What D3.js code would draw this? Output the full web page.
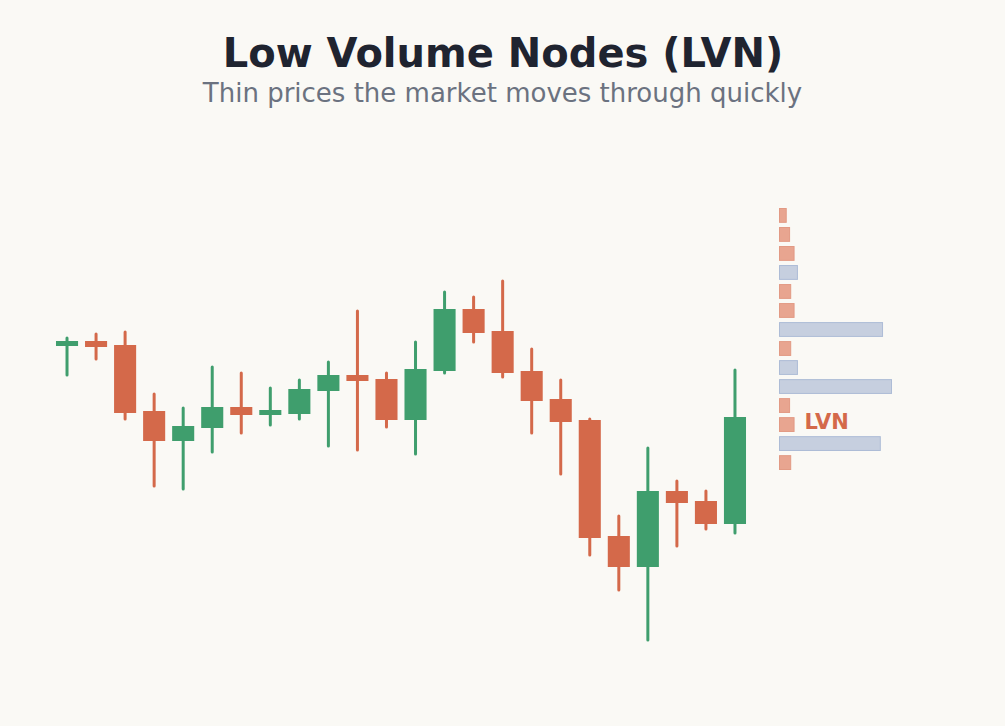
<!DOCTYPE html>
<html>
<head>
<meta charset="utf-8">
<script src="https://cdn.jsdelivr.net/npm/d3@7"></script>
<style>
  html, body { margin: 0; padding: 0; background: #faf9f5; }
  svg { display: block; font-family: "DejaVu Sans", sans-serif; }
</style>
</head>
<body>
<div id="chart"></div>
<script>
// candles, one entry per bar
const opens  = [105.4, 105.9, 105.5, 98.9, 95.9, 97.2, 99.3, 98.5, 98.6, 100.9, 102.5, 102.1, 98.0, 102.9, 109.1, 106.9, 102.9, 100.1, 98.0, 86.4, 83.3, 90.9, 89.9, 87.6];
const closes = [105.9, 105.3, 98.7, 95.9, 97.4, 99.3, 98.5, 99.0, 101.1, 102.5, 101.9, 98.0, 103.1, 109.1, 106.7, 102.7, 99.9, 97.8, 86.2, 83.3, 90.9, 89.7, 87.6, 98.3];
const highs  = [106.2, 106.6, 106.8, 100.6, 99.2, 103.3, 102.7, 101.2, 102.0, 103.8, 108.9, 102.7, 105.8, 110.8, 110.3, 111.9, 105.1, 102.0, 98.1, 88.4, 95.2, 91.9, 90.9, 103.0];
const lows   = [102.5, 104.1, 98.1, 91.4, 91.1, 94.8, 96.7, 97.5, 98.1, 95.4, 95.0, 97.3, 94.6, 102.7, 105.8, 102.3, 96.7, 92.6, 84.5, 81.0, 76.0, 85.4, 87.1, 86.7];

// volume profile, top bin first
const profileVolumes = [6, 9, 13, 16, 10, 13, 92, 10, 16, 100, 9, 13, 90, 10];
const lvnThreshold = 15;

const width = 1005, height = 726;
const green = "#3f9e6d", red = "#d4694a";

const svg = d3.select("#chart").append("svg")
  .attr("width", width).attr("height", height)
  .attr("viewBox", [0, 0, width, height]);

svg.append("rect").attr("width", width).attr("height", height).attr("fill", "#faf9f5");

svg.append("text")
  .attr("x", width / 2 + 0.5).attr("y", 67)
  .attr("text-anchor", "middle")
  .style("font-size", "40px").style("font-weight", "bold")
  .attr("fill", "#1f2430")
  .text("Low Volume Nodes (LVN)");

svg.append("text")
  .attr("x", width / 2).attr("y", 102)
  .attr("text-anchor", "middle")
  .style("font-size", "26px")
  .attr("fill", "#6b7280")
  .text("Thin prices the market moves through quickly");

const idx = d3.range(opens.length);

const x = d3.scaleBand()
  .domain(idx)
  .range([52.5, 749.5])
  .paddingInner(0.24)
  .paddingOuter(0.12);

// price -> pixel
const y = d3.scaleLinear().domain([76, 111.9]).range([640, 281]);

const candles = svg.append("g").selectAll("g")
  .data(idx)
  .join("g");

candles.append("line")
  .attr("x1", i => x(i) + x.bandwidth() / 2)
  .attr("x2", i => x(i) + x.bandwidth() / 2)
  .attr("y1", i => y(highs[i]))
  .attr("y2", i => y(lows[i]))
  .attr("stroke", i => closes[i] >= opens[i] ? green : red)
  .attr("stroke-width", 3)
  .attr("stroke-linecap", "round");

candles.append("rect")
  .attr("x", i => x(i))
  .attr("width", x.bandwidth())
  .attr("y", i => y(Math.max(opens[i], closes[i])))
  .attr("height", i => Math.max(4, Math.abs(y(opens[i]) - y(closes[i]))))
  .attr("fill", i => closes[i] >= opens[i] ? green : red);

// volume profile on the right
const py = d3.scaleBand()
  .domain(d3.range(profileVolumes.length))
  .range([208, 470])
  .paddingInner(0.22)
  .paddingOuter(0);

const px = d3.scaleLinear().domain([0, 100]).range([0, 112]);

svg.append("g").selectAll("rect")
  .data(profileVolumes)
  .join("rect")
  .attr("x", 779.5)
  .attr("y", (d, i) => py(i) + 0.5)
  .attr("width", d => px(d))
  .attr("height", py.bandwidth() - 1)
  .attr("fill", d => d < lvnThreshold ? "#e8a590" : "#c6cfdf")
  .attr("stroke", d => d < lvnThreshold ? "#e29a84" : "#adbcd6")
  .attr("stroke-width", 1);

svg.append("text")
  .attr("x", 804.5)
  .attr("y", py(11) + py.bandwidth() / 2 + 4)
  .style("font-size", "21px").style("font-weight", "bold")
  .attr("fill", red)
  .text("LVN");
</script>
</body>
</html>
